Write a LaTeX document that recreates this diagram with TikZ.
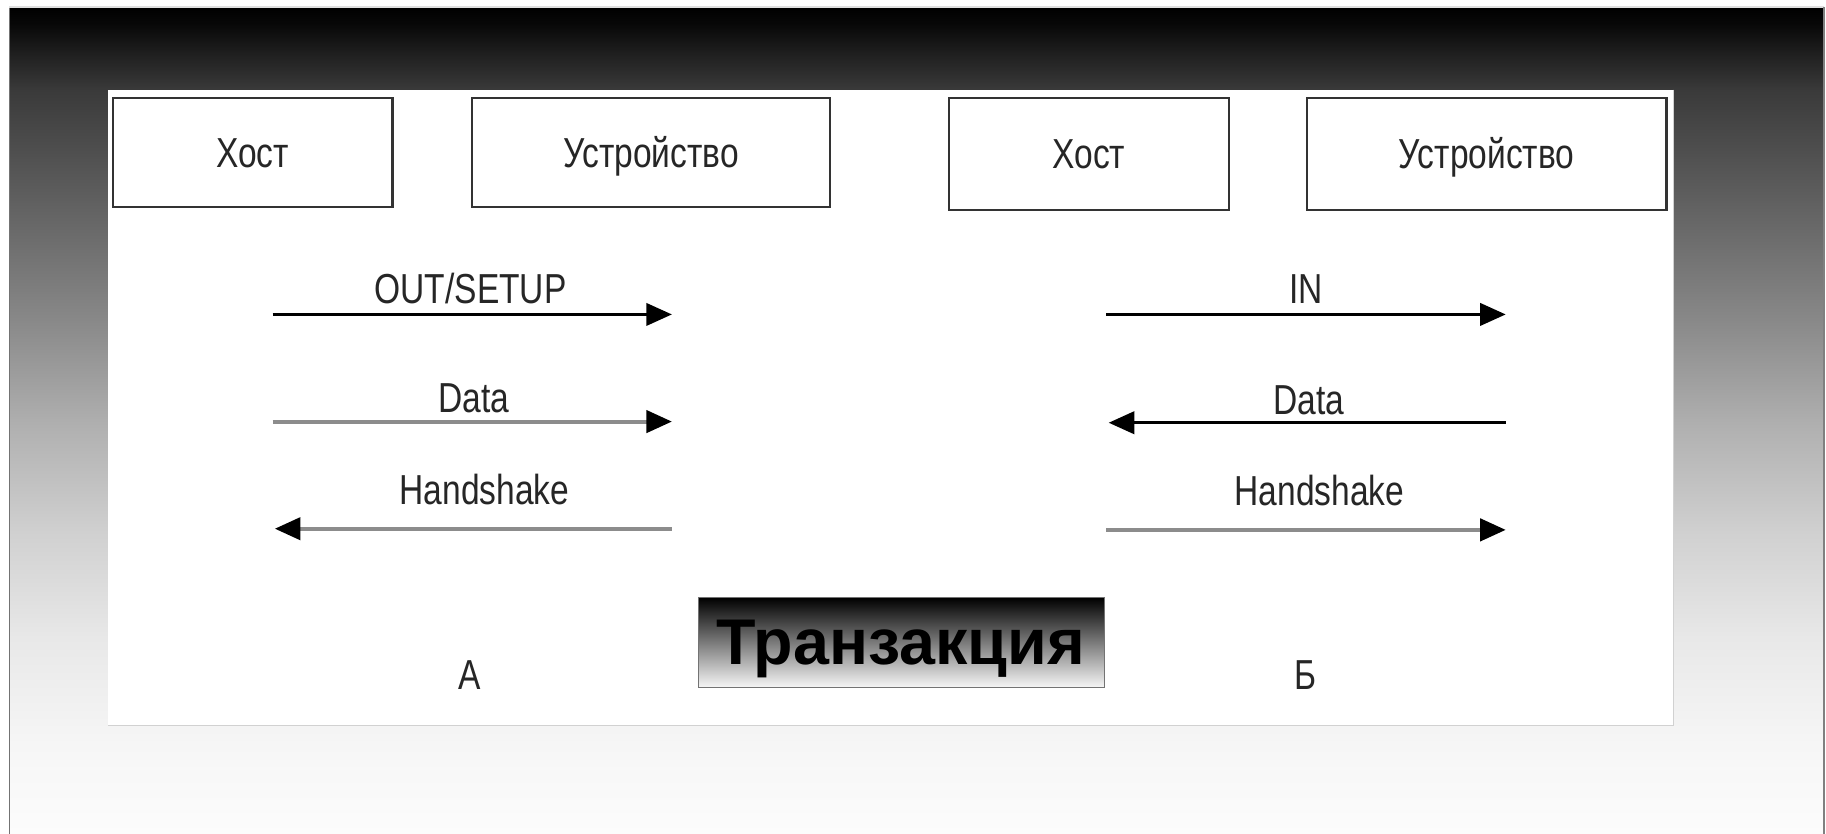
\documentclass[tikz,border=0pt]{standalone}
\usepackage{fontspec}
\setmainfont{Liberation Sans}
\newfontfamily\narrowfont[FakeStretch=0.8]{Liberation Sans}
\usetikzlibrary{arrows.meta}

% Slide background: black at the top fading to near white at the bottom
\pgfdeclareverticalshading{slidebg}{100bp}{%
  rgb(0bp)=(0.988,0.988,0.988); rgb(25bp)=(0.988,0.988,0.988);
  rgb(30.35bp)=(0.965,0.965,0.965); rgb(36.85bp)=(0.91,0.91,0.91);
  rgb(43.25bp)=(0.816,0.816,0.816); rgb(49.7bp)=(0.69,0.69,0.69);
  rgb(56.15bp)=(0.533,0.533,0.533); rgb(70bp)=(0.227,0.227,0.227);
  rgb(72.25bp)=(0.118,0.118,0.118); rgb(74bp)=(0.03,0.03,0.03);
  rgb(75bp)=(0,0,0); rgb(100bp)=(0,0,0)}

\begin{document}
\begin{tikzpicture}[x=1pt,y=-1pt,
  every node/.style={inner sep=0pt, outer sep=0pt},
  boxfont/.style={font={\narrowfont\fontsize{36}{40}\selectfont}, text=black!85},
  partybox/.style={boxfont, draw=black!80, line width=1.8pt, fill=white,
    text height=26pt, text depth=0pt},
  lbl/.style={boxfont, anchor=base},
  solidarrow/.style={draw=black, line width=3pt,
    -{Triangle[length=22pt,width=19pt,color=black]}},
  greyarrow/.style={draw=black!45, line width=3.5pt,
    -{Triangle[length=22pt,width=19pt,color=black]}},
  transbox/.style={draw=black!55, line width=0.8pt, shading=axis,
    top color=black, bottom color=white!96!black},
  transtext/.style={font={\bfseries\fontsize{55.5}{60}\selectfont}, text=black, anchor=base}
]
\useasboundingbox (0,0) rectangle (1568,716);
\fill[white] (0,0) rectangle (1568,716);

% slide
\shade[shading=slidebg] (8,6) rectangle (1566,716);
\draw[black!55, line width=1pt] (8,716) -- (8,6);
\draw[black!12, line width=1pt] (8,6) -- (1566,6);
\draw[black!50, line width=2pt] (1566,6) -- (1566,716);

% white panel
\fill[white] (93,77) rectangle (1437,623);
\draw[black!18, line width=1.2pt] (1437,77) -- (1437,623) -- (93,623);

% parties
\node[partybox, minimum width=240pt, minimum height=94pt] (hostA) at (217,131) {Хост};
\node[partybox, minimum width=308pt, minimum height=94pt] (devA) at (559,131) {Устройство};
\node[partybox, minimum width=240pt, minimum height=96pt] (hostB) at (935,132) {Хост};
\node[partybox, minimum width=309pt, minimum height=96pt] (devB) at (1276.5,132) {Устройство};

% case A
\coordinate (a1s) at (234,270); \coordinate (a1e) at (577,270);
\coordinate (a2s) at (234,362); \coordinate (a2e) at (577,362);
\coordinate (a3s) at (577,454); \coordinate (a3e) at (236,454);
\draw[solidarrow] (a1s) -- (a1e) node[lbl, pos=0.5, yshift=9pt, xshift=-1.5pt] (a1l) {OUT/SETUP};
\draw[greyarrow] (a2s) -- (a2e) node[lbl, pos=0.5, yshift=7.5pt, xshift=1.5pt] (a2l) {Data};
\draw[greyarrow] (a3s) -- (a3e) node[lbl, pos=0.5, yshift=20.5pt, xshift=9.5pt] (a3l) {Handshake};

% case B
\coordinate (b1s) at (950,270); \coordinate (b1e) at (1293,270);
\coordinate (b2s) at (1293,363); \coordinate (b2e) at (952,363);
\coordinate (b3s) at (950,455); \coordinate (b3e) at (1293,455);
\draw[solidarrow] (b1s) -- (b1e) node[lbl, pos=0.5, yshift=9pt] (b1l) {IN};
\draw[solidarrow] (b2s) -- (b2e) node[lbl, pos=0.5, yshift=7.5pt, xshift=1.5pt] (b2l) {Data};
\draw[greyarrow] (b3s) -- (b3e) node[lbl, pos=0.5, yshift=21pt, xshift=11.5pt] (b3l) {Handshake};

% captions
\node[lbl] (capA) at (403,592) {А};
\node[lbl] (capB) at (1121,592) {Б};

% title plate
\node[transbox, minimum width=348pt, minimum height=77pt] (trans) at (774,551.5) {};
\node[transtext] (transtxt) at (773.5,571) {Транзакция};
\end{tikzpicture}
\end{document}
